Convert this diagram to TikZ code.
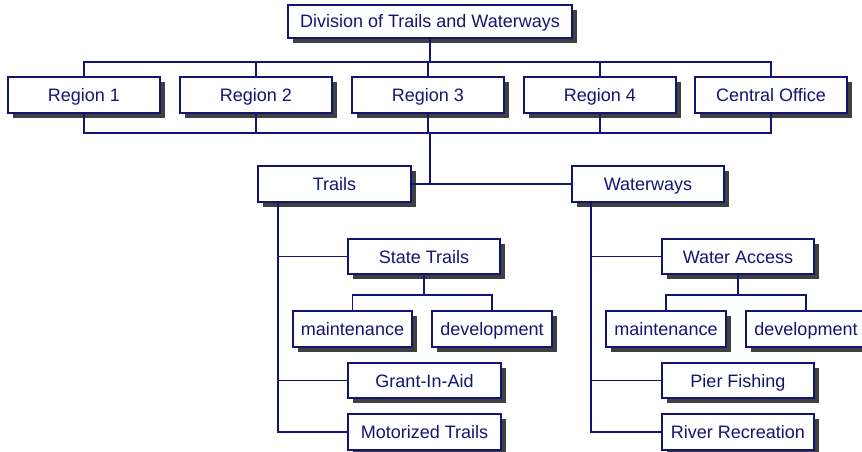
\documentclass[tikz,border=0pt]{standalone}
\usepackage{fontspec}
\setmainfont{Liberation Sans}
\usepackage{tikz}
\usetikzlibrary{shadows, positioning, calc}
\definecolor{navy}{RGB}{20,20,115}
\tikzset{
  orgbox/.style={rectangle, draw=navy, line width=1.1pt, fill=white,
                 text=navy, minimum width=152pt, minimum height=36pt,
                 inner sep=0pt, text height=13pt, text depth=0pt,
                 font=\fontsize{18}{20}\selectfont,
                 drop shadow={shadow xshift=5pt, shadow yshift=-5pt,
                              fill=black!75, opacity=1}},
  subbox/.style={orgbox, minimum width=120pt},
  link/.style={draw=navy, line width=1.1pt},
  trunk/.style={link, line width=2.2pt},
}

\begin{document}
\begin{tikzpicture}[x=1pt, y=-1pt]
  \useasboundingbox (0,0) rectangle (862,452);

  % Division and regions
  \node[orgbox, minimum width=284pt, minimum height=33pt] (div) at (430,21.5)
    {Division of Trails and Waterways};
  \node[orgbox] (r1) at (84,95) {Region 1};
  \node[orgbox] (r2) at (256,95) {Region 2};
  \node[orgbox] (r3) at (428,95) {Region 3};
  \node[orgbox] (r4) at (600,95) {Region 4};
  \node[orgbox] (co) at (771,95) {Central Office};

  % Trails side
  \node[orgbox, minimum width=153pt] (trails) at (334.5,184) {Trails};
  \node[orgbox, minimum height=35pt] (state) at (424,256.5) {State Trails};
  \node[subbox, minimum width=119pt] (tmaint) at (352.5,329) {maintenance};
  \node[subbox] (tdev) at (492,329) {development};
  \node[orgbox, minimum width=153pt, minimum height=35pt] (grant) at (424.5,380.5)
    {Grant-In-Aid};
  \node[orgbox, minimum width=153pt] (motor) at (424.5,432) {Motorized Trails};

  % Waterways side
  \node[orgbox] (water) at (648,184) {Waterways};
  \node[orgbox, minimum height=35pt] (access) at (738,256.5) {Water Access};
  \node[subbox] (wmaint) at (666,329) {maintenance};
  \node[subbox] (wdev) at (806,329) {development};
  \node[orgbox, minimum height=35pt] (pier) at (738,380.5) {Pier Fishing};
  \node[orgbox] (river) at (738,432) {River Recreation};

  \coordinate (hub) at (430,184);
  \coordinate (tspine) at (278,202);
  \coordinate (wspine) at (591,202);

  % Connectors
  \draw[link] (div.south) -- (div.south |- 0,62);
  \draw[link] (r1.north) |- (co.north |- 0,62) -- (co.north);
  \foreach \r in {r2,r3,r4}
    \draw[link] (\r.north) -- (\r.north |- 0,62);
  \draw[link] (r1.south) |- (co.south |- 0,133) -- (co.south);
  \foreach \r in {r2,r3,r4}
    \draw[link] (\r.south) -- (\r.south |- 0,133);
  \draw[trunk] (hub |- 0,133) -- (hub);
  \draw[link] (trails.east) -- (water.west);

  \draw[link] (tspine) |- (motor.west);
  \draw[link] (tspine |- state) -- (state.west);
  \draw[link] (tspine |- grant) -- (grant.west);
  \draw[link] (state.south) -- (state.south |- 0,295);
  \draw[link] (tmaint.north) |- (tdev.north |- 0,295) -- (tdev.north);

  \draw[link] (wspine) |- (river.west);
  \draw[link] (wspine |- access) -- (access.west);
  \draw[link] (wspine |- pier) -- (pier.west);
  \draw[link] (access.south) -- (access.south |- 0,295);
  \draw[link] (wmaint.north) |- (wdev.north |- 0,295) -- (wdev.north);
\end{tikzpicture}
\end{document}
